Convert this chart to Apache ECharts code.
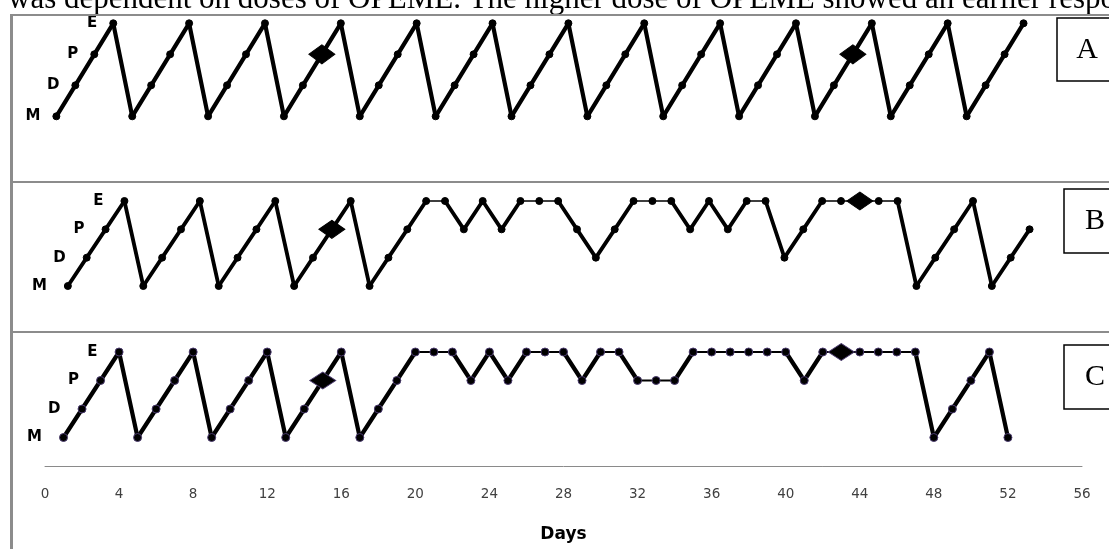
<!DOCTYPE html>
<html><head><meta charset="utf-8">
<script src="https://cdn.jsdelivr.net/npm/echarts@6/dist/echarts.min.js"></script>
<style>html,body{margin:0;padding:0;background:#fff}#c{width:1109px;height:549px}</style>
</head><body><div id="c"></div>
<script>
// ---------- data ----------
const captionText = 'was dependent on doses of OPEME. The higher dose of OPEME showed an earlier respo';
const days = [1,2,3,4,5,6,7,8,9,10,11,12,13,14,15,16,17,18,19,20,21,22,23,24,25,26,
              27,28,29,30,31,32,33,34,35,36,37,38,39,40,41,42,43,44,45,46,47,48,49,50,51,52];
const stageLabels = ['M','D','P','E'];   // 0..3
const stageA = [0,1,2,3, 0,1,2,3, 0,1,2,3, 0,1,2,3, 0,1,2,3, 0,1,2,3, 0,1,2,3,
                0,1,2,3, 0,1,2,3, 0,1,2,3, 0,1,2,3, 0,1,2,3, 0,1,2,3];
const stageB = [0,1,2,3, 0,1,2,3, 0,1,2,3, 0,1,2,3, 0,1,2,3, 3,2,3,2,3,3,3,2,1,2,3,3,3,2,3,2,3,3,1,2,3,3,3,3,3, 0,1,2,3, 0,1,2];
const stageC = [0,1,2,3, 0,1,2,3, 0,1,2,3, 0,1,2,3, 0,1,2,3, 3,3,2,3,2,3,3,3,2,3,3,2,2,2,3,3,3,3,3,3,2,3,3,3,3,3,3, 0,1,2,3,0];
const diamondDaysA = [15, 43];
const diamondDaysB = [15, 43];
const diamondDaysC = [15, 43];
const panelLetters = ['A', 'B', 'C'];
const xAxisTitle = 'Days';

// ---------- layout / style ----------
const panels = [
  { stage: stageA, dd: diamondDaysA, grid: {left: 37.4, top: 23.3, width: 1062, height: 93}, ymin: 0,
    thick: 4.2, thin: 1.5, dot: 7, dia: [26, 19], labelDist: 12, border: '#000' },
  { stage: stageB, dd: diamondDaysB, grid: {left: 49, top: 201, width: 1056, height: 85}, ymin: 0,
    thick: 3.8, thin: 1.3, dot: 7, dia: [26, 18], labelDist: 17, border: '#000' },
  { stage: stageC, dd: diamondDaysC, grid: {left: 45, top: 352, width: 1037, height: 114}, ymin: -1,
    thick: 4.2, thin: 2, dot: 8, dia: [26, 17], labelDist: 17, border: '#4a3a6e' }
];

const chart = echarts.init(document.getElementById('c'));

function segs(stage) {
  const out = [];
  for (let i = 0; i < days.length - 1; i++) out.push([days[i], stage[i], days[i + 1], stage[i + 1]]);
  return out;
}
function pts(p) {
  return days.map((d, i) => {
    const isDia = p.dd.includes(d);
    const item = { value: [d, p.stage[i]] };
    if (isDia) { item.symbol = 'diamond'; item.symbolSize = p.dia; }
    if (i < 4) item.label = { show: true, formatter: stageLabels[p.stage[i]] };
    return item;
  });
}

const grids = [], xAxes = [], yAxes = [], series = [];
panels.forEach((p, k) => {
  grids.push(Object.assign({ containLabel: false }, p.grid));
  const isLast = k === panels.length - 1;
  xAxes.push({
    gridIndex: k, type: 'value', min: 0, max: 56, interval: 4, show: isLast,
    axisLine: { show: true, onZero: false, lineStyle: { color: '#8a8a8a', width: 1 } },
    axisTick: { show: false }, splitLine: { show: false },
    axisLabel: { color: '#404040', fontSize: 13.5, margin: 21, fontFamily: 'DejaVu Sans' },
    name: isLast ? xAxisTitle : '', nameLocation: 'middle', nameGap: 60,
    nameTextStyle: { color: '#000', fontWeight: 'bold', fontSize: 17, fontFamily: 'DejaVu Sans' }
  });
  yAxes.push({ gridIndex: k, type: 'value', min: p.ymin, max: 3, show: false, splitLine: { show: false } });
  series.push({
    type: 'custom', xAxisIndex: k, yAxisIndex: k, clip: false, z: 2,
    encode: { x: [0, 2], y: [1, 3] },
    data: segs(p.stage),
    renderItem: (params, api) => {
      const a = api.coord([api.value(0), api.value(1)]);
      const b = api.coord([api.value(2), api.value(3)]);
      const flat = api.value(1) === api.value(3);
      return { type: 'line', shape: { x1: a[0], y1: a[1], x2: b[0], y2: b[1] },
               style: { stroke: '#000', lineWidth: flat ? p.thin : p.thick, lineCap: 'round' } };
    }
  });
  series.push({
    type: 'scatter', xAxisIndex: k, yAxisIndex: k, clip: false, z: 3,
    symbol: 'circle', symbolSize: p.dot,
    itemStyle: { color: '#000', borderColor: p.border, borderWidth: 1, opacity: 1 },
    label: { show: false, position: 'left', distance: p.labelDist, color: '#000',
             fontWeight: 'bold', fontSize: 15, fontFamily: 'DejaVu Sans' },
    emphasis: { disabled: true },
    data: pts(p)
  });
});

const gray = '#8c8c8c';
const boxes = [ {x: 1057, y: 18, h: 63, tx: 1087, ty: 50},
                {x: 1064, y: 189, h: 64, tx: 1095, ty: 221},
                {x: 1064, y: 345, h: 64, tx: 1095, ty: 377} ];
const graphic = [
  { type: 'text', x: 8, y: 0, z: 0, style: { text: captionText, font: '31px "Liberation Serif"', fill: '#000', verticalAlign: 'middle' } },
  { type: 'rect', shape: { x: 0, y: 14, width: 1109, height: 8 }, style: { fill: '#fff' }, z: 1 },
  { type: 'line', shape: { x1: 10, y1: 15, x2: 1109, y2: 15 }, style: { stroke: gray, lineWidth: 2 }, z: 10 },
  { type: 'line', shape: { x1: 11.5, y1: 14, x2: 11.5, y2: 549 }, style: { stroke: gray, lineWidth: 3 }, z: 10 },
  { type: 'line', shape: { x1: 10, y1: 182, x2: 1109, y2: 182 }, style: { stroke: gray, lineWidth: 2 }, z: 10 },
  { type: 'line', shape: { x1: 10, y1: 332, x2: 1109, y2: 332 }, style: { stroke: gray, lineWidth: 2 }, z: 10 }
];
boxes.forEach((b, i) => {
  graphic.push({ type: 'rect', shape: { x: b.x, y: b.y, width: 80, height: b.h }, style: { fill: '#fff', stroke: '#000', lineWidth: 1.5 }, z: 10 });
  graphic.push({ type: 'text', x: b.tx, y: b.ty, z: 11, style: { text: panelLetters[i], font: '30px "Liberation Serif"', fill: '#000', align: 'center', verticalAlign: 'middle' } });
});

chart.setOption({
  animation: false,
  backgroundColor: '#fff',
  grid: grids, xAxis: xAxes, yAxis: yAxes, series: series,
  graphic: graphic
});
</script></body></html>
